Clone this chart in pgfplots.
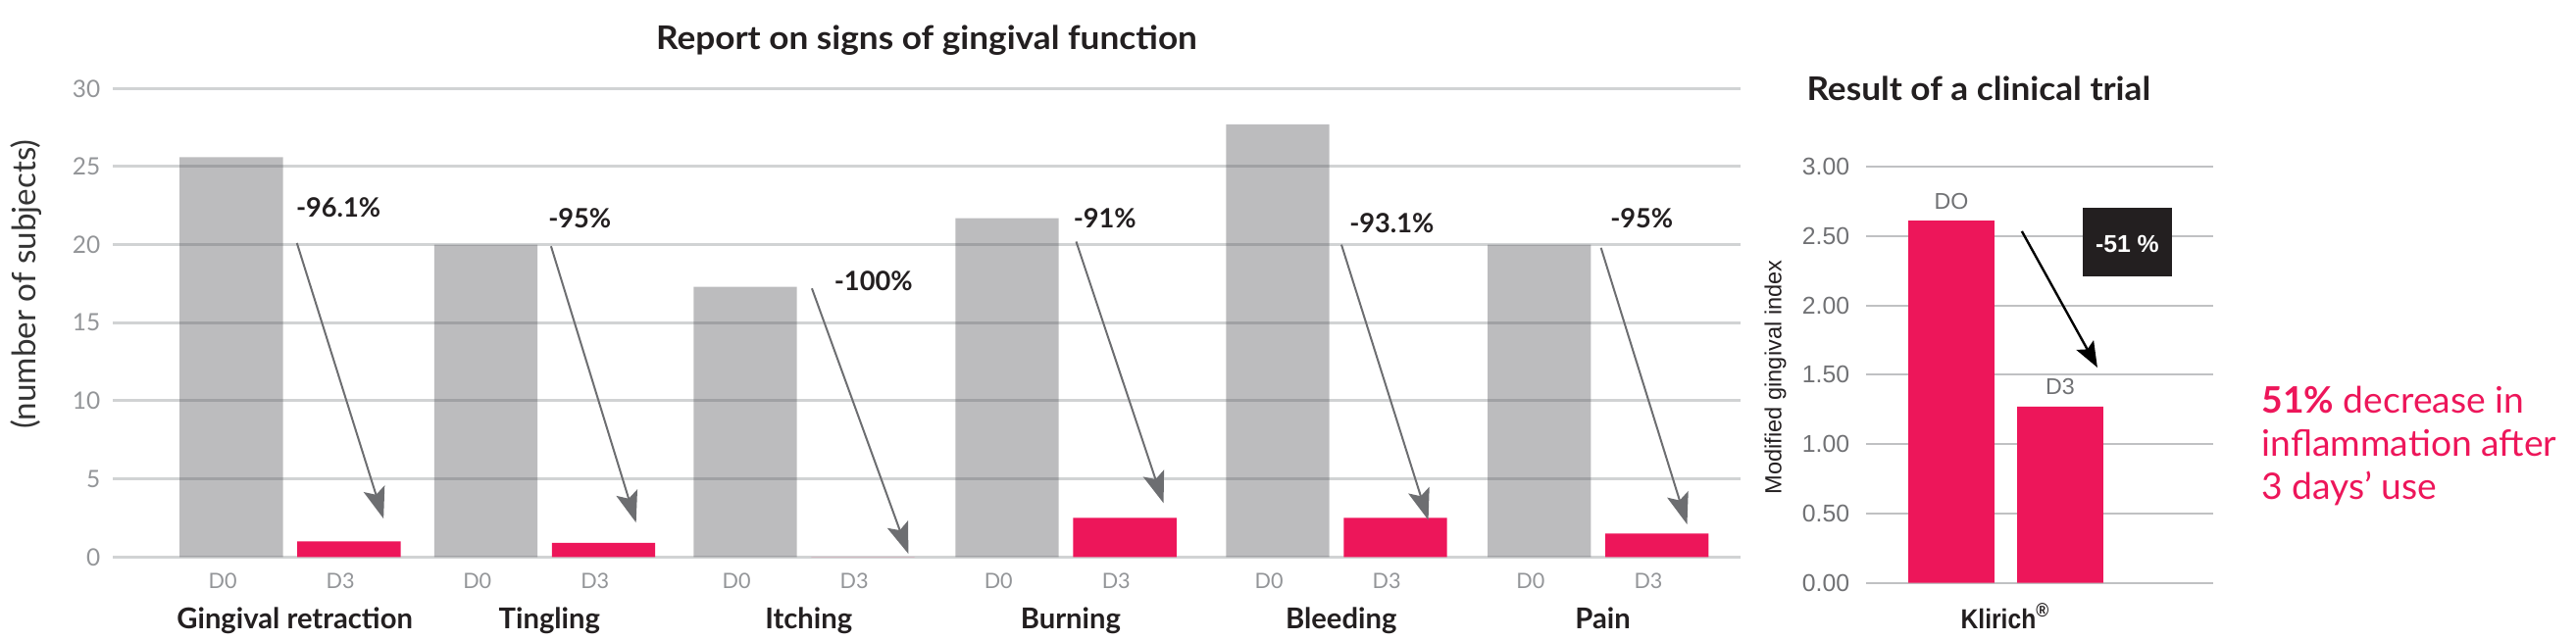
\documentclass[border=0pt]{standalone}
\usepackage{fontspec}
\setmainfont{Lato}
\newfontfamily\titlef{Lato}[FakeStretch=1.06]
\newfontfamily\helv{Liberation Sans}
\newfontfamily\helvn{Liberation Sans}[FakeStretch=0.88]
\usepackage{pgfplots}
\pgfplotsset{compat=1.18}
\usetikzlibrary{arrows.meta}
\definecolor{barG}{RGB}{87,88,92}
\definecolor{pinkK}{RGB}{237,22,90}
\definecolor{gridL}{RGB}{209,211,212}
\definecolor{gridR}{RGB}{192,193,195}
\definecolor{tickL}{RGB}{147,149,152}
\definecolor{tickR}{RGB}{112,113,116}
\definecolor{arrG}{RGB}{109,110,113}
\definecolor{titleC}{RGB}{35,31,32}

\begin{document}
\begin{tikzpicture}
\useasboundingbox (0,0) rectangle (656.75pt,163.25pt);

% left: signs of gingival function (D0 / D3 per symptom)
\begin{axis}[
  at={(28.75pt,21.175pt)}, anchor=south west,
  scale only axis, width=415pt, height=119.5pt,
  xmin=-0.68, xmax=5.56, ymin=0, ymax=30,
  axis line style={draw=none}, major tick length=0pt,
  ymajorgrids, grid style={gridL, line width=0.75pt},
  /pgf/number format/assume math mode=true,
  ytick={0,5,...,30},
  yticklabel style={font=\fontsize{6.1}{7}\selectfont, text=tickL, inner sep=0pt, xshift=-3pt},
  xtick={-0.2256,0.2256,0.7504,1.2016,1.7444,2.1956,2.7484,3.1996,3.7854,4.2366,4.7884,5.2396},
  xticklabels={D0,D3,D0,D3,D0,D3,D0,D3,D0,D3,D0,D3},
  xticklabel style={font=\fontsize{5.4}{6}\selectfont, text=tickL, anchor=base, inner sep=0pt, yshift=-8.1pt, xshift=-2.2pt},
  extra x ticks={0,0.976,1.970,2.974,4.011,5.014},
  extra x tick labels={Gingival retraction,Tingling,Itching,Burning,Bleeding,Pain},
  extra x tick style={grid=none, xticklabel style={font=\bfseries\fontsize{7.3}{8}\selectfont, text=titleC, yshift=-10.25pt, xshift=3.4pt}},
  title={Report on signs of gingival function},
  title style={at={(axis description cs:0.5,1.083)}, anchor=base, yshift=-6pt, font=\titlef\bfseries\fontsize{8.3}{9}\selectfont, text=titleC},
  ylabel={(number of subjects)},
  ylabel style={at={(axis description cs:-0.053,0.582)}, anchor=center, font=\fontsize{8.3}{9}\selectfont, text=black!80},
  clip=false,
]
\addplot[ybar, bar width=0.396, bar shift=-0.2256, fill=barG, fill opacity=0.4, draw=none]
  coordinates {(0,25.6)(0.976,20)(1.970,17.3)(2.974,21.7)(4.011,27.7)(5.014,20)};
\addplot[ybar, bar width=0.396, bar shift=0.2256, fill=pinkK, draw=none]
  coordinates {(0,1.0)(0.976,0.9)(1.970,0)(2.974,2.5)(4.011,2.5)(5.014,1.5)};

\tikzset{chg/.style={arrG, line width=0.5pt, -{Stealth[length=8pt,width=5.6pt,inset=1.6pt]}},
         pct/.style={anchor=base west, inner sep=0pt, font=\bfseries\fontsize{6.8}{8}\selectfont, text=titleC}}
\draw[chg] (axis cs:0.026,20.1) -- (axis cs:0.358,2.45);
\draw[chg] (axis cs:1.0,19.9) -- (axis cs:1.326,2.2);
\draw[chg] (axis cs:2.0,17.2) -- (axis cs:2.37,0.2);
\draw[chg] (axis cs:3.013,20.2) -- (axis cs:3.348,3.45);
\draw[chg] (axis cs:4.03,20.0) -- (axis cs:4.363,2.36);
\draw[chg] (axis cs:5.025,19.8) -- (axis cs:5.355,2.09);
\node[pct] at (axis cs:0.02,21.76) {-96.1\%};
\node[pct] at (axis cs:0.987,21.1) {-95\%};
\node[pct] at (axis cs:2.083,17.06) {-100\%};
\node[pct] at (axis cs:3.0,21.1) {-91\%};
\node[pct] at (axis cs:4.058,20.78) {-93.1\%};
\node[pct] at (axis cs:5.058,21.1) {-95\%};
\end{axis}

% right: clinical trial
\begin{axis}[
  at={(475.75pt,14.6pt)}, anchor=south west,
  scale only axis, width=88.6pt, height=106.15pt,
  xmin=-0.784, xmax=2.41, ymin=0, ymax=3,
  axis line style={draw=none}, major tick length=0pt,
  ymajorgrids, grid style={gridR, line width=0.5pt},
  /pgf/number format/assume math mode=true,
  ytick={0,0.5,...,3},
  yticklabel={\pgfmathprintnumber[fixed,fixed zerofill,precision=2]{\tick}},
  yticklabel style={font=\helv\fontsize{6.2}{7}\selectfont, text=tickR, inner sep=0pt, xshift=-4pt},
  xtick={0.5}, xticklabels={Klirich\textsuperscript{®}},
  xticklabel style={font=\helvn\bfseries\fontsize{7}{8}\selectfont, text=titleC, anchor=base, inner sep=0pt, yshift=-11.8pt},
  title={Result of a clinical trial},
  title style={at={(axis description cs:0.324,1.160)}, anchor=base, yshift=-6pt, font=\titlef\bfseries\fontsize{8.3}{9}\selectfont, text=titleC},
  ylabel={Modified gingival index},
  ylabel style={at={(axis description cs:-0.261,0.494)}, anchor=center, font=\helv\fontsize{5.9}{7}\selectfont, text=titleC},
  clip=false,
]
\addplot[ybar, bar width=0.79, fill=pinkK, draw=none,
  point meta=explicit symbolic, nodes near coords,
  every node near coord/.append style={anchor=base, inner sep=0pt, yshift=3pt, font=\helv\fontsize{5.8}{7}\selectfont, text=tickR}]
  coordinates {(0,2.61)[DO] (1,1.27)[D3]};
\fill[titleC] (axis cs:1.207,2.206) rectangle (axis cs:2.027,2.70);
\node[text=white, font=\helv\bfseries\fontsize{6.2}{7}\selectfont] at (axis cs:1.617,2.44) {-51 \%};
\draw[black, line width=0.6pt, -{Stealth[length=6.5pt,width=5pt,inset=1.2pt]}] (axis cs:0.648,2.534) -- (axis cs:1.342,1.552);
\end{axis}

\node[anchor=north west, inner sep=0pt, align=left, text=pinkK, font=\fontsize{9.3}{11.1}\selectfont]
  at (576.5pt,65pt) {\textbf{51\%} decrease in\\inflammation after\\3 days’ use};
\end{tikzpicture}
\end{document}
